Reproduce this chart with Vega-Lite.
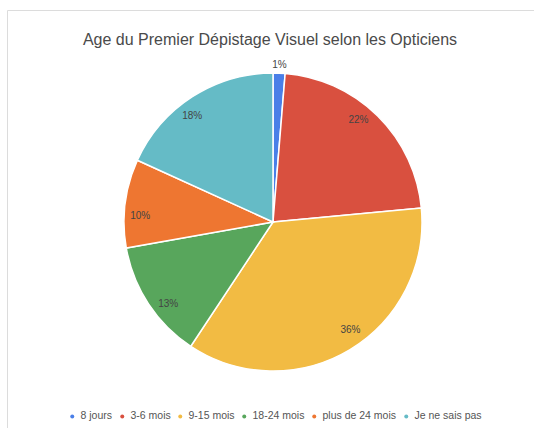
{
  "$schema": "https://vega.github.io/schema/vega-lite/v6.json",
  "width": 532,
  "height": 424,
  "autosize": "none",
  "padding": {"left": 7, "top": 10, "right": 0, "bottom": 0},
  "background": "white",
  "view": {"stroke": "#dcdcdc", "strokeWidth": 1, "fill": "white"},
  "title": {
    "text": "Age du Premier Dépistage Visuel selon les Opticiens",
    "font": "Liberation Sans",
    "fontSize": 16,
    "fontWeight": "normal",
    "color": "#4a4a4a",
    "anchor": "middle",
    "offset": -38,
    "dx": -3
  },
  "data": {
    "values": [
      {"categorie": "8 jours", "valeur": 1.3, "label": "1%", "ordre": 1},
      {"categorie": "3-6 mois", "valeur": 22.2, "label": "22%", "ordre": 2},
      {"categorie": "9-15 mois", "valeur": 35.8, "label": "36%", "ordre": 3},
      {"categorie": "18-24 mois", "valeur": 12.9, "label": "13%", "ordre": 4},
      {"categorie": "plus de 24 mois", "valeur": 9.6, "label": "10%", "ordre": 5},
      {"categorie": "Je ne sais pas", "valeur": 18.2, "label": "18%", "ordre": 6}
    ]
  },
  "encoding": {
    "theta": {"field": "valeur", "type": "quantitative", "stack": true},
    "order": {"field": "ordre", "type": "quantitative"}
  },
  "layer": [
    {
      "mark": {"type": "arc", "outerRadius": 149, "stroke": "white", "strokeWidth": 1.5},
      "encoding": {
        "color": {
          "field": "categorie",
          "type": "nominal",
          "scale": {
            "domain": ["8 jours", "3-6 mois", "9-15 mois", "18-24 mois", "plus de 24 mois", "Je ne sais pas"],
            "range": ["#4a7fe8", "#d9503f", "#f2bb43", "#58a65c", "#ee7631", "#65bbc6"]
          },
          "legend": {
            "title": null,
            "orient": "none",
            "legendX": 60,
            "legendY": 401,
            "direction": "horizontal",
            "symbolType": "circle",
            "symbolSize": 16,
            "symbolStrokeWidth": 0,
            "labelFont": "Liberation Sans",
            "labelFontSize": 10.5,
            "labelColor": "#555555",
            "labelOffset": 3,
            "columnPadding": 4
          }
        }
      }
    },
    {
      "transform": [{"filter": "datum.valeur >= 5"}],
      "mark": {"type": "text", "radius": 133, "font": "Liberation Sans", "fontSize": 10, "color": "#444444"},
      "encoding": {"text": {"field": "label"}}
    },
    {
      "transform": [{"filter": "datum.valeur < 5"}],
      "mark": {"type": "text", "radius": 157, "font": "Liberation Sans", "fontSize": 10, "color": "#444444"},
      "encoding": {"text": {"field": "label"}}
    }
  ],
  "config": {
    "view": {"stroke": "#dcdcdc", "strokeWidth": 1}
  }
}
